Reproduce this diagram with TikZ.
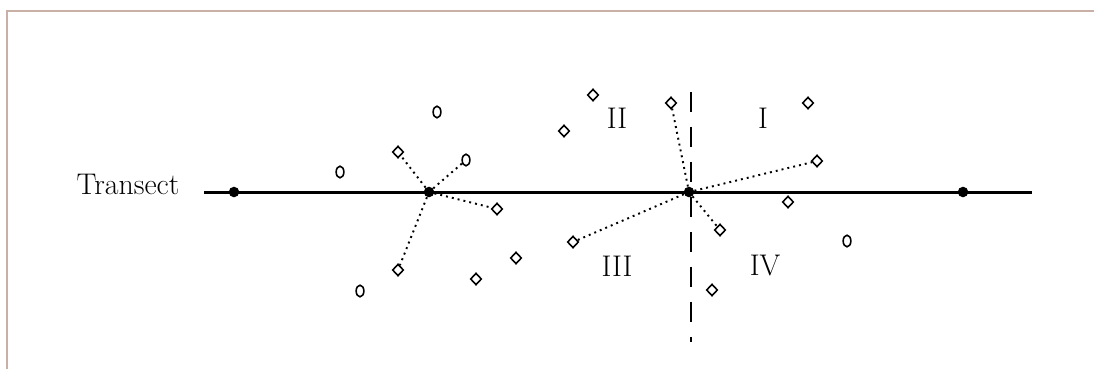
\documentclass[tikz,border=0pt]{standalone}
\usepackage{tikz}
\usetikzlibrary{shapes.geometric}

\definecolor{frame}{RGB}{200,176,166}

\begin{document}
\begin{tikzpicture}[
  x=0.02cm, y=-0.02cm,
  pt/.style={diamond, draw, line width=0.9pt, inner sep=0pt, minimum width=6.4pt, minimum height=6.8pt},
  opt/.style={ellipse, draw, line width=0.9pt, inner sep=0pt, minimum width=4.4pt, minimum height=6.6pt},
  stn/.style={circle, fill, inner sep=0pt, minimum size=6pt},
  lab/.style={font=\fontsize{17}{19}\selectfont},
  nn/.style={line width=1.1pt, dash pattern=on 1.1pt off 2.3pt}
]
  \useasboundingbox (0,0) rectangle (1094,369);
  \draw[frame, line width=1.2pt] (7,369) -- (7,11) -- (1094,11);

  % transect and dividing line
  \coordinate (tw) at (204,192);
  \coordinate (te) at (1032,192);
  \coordinate (dt) at (691,92);
  \coordinate (db) at (691,342);
  \draw[line width=1.7pt] (tw) -- (te);
  \draw[line width=1.3pt, dash pattern=on 0.4cm off 0.3cm] (dt) -- (db);
  \node[lab] (tr) at (128,184) {Transect};

  \node[stn] (s0) at (234,192) {};
  \node[stn] (s1) at (429,192) {};
  \node[stn] (s2) at (689,192) {};
  \node[stn] (s3) at (963,192) {};

  % quadrant labels
  \node[lab] (q1) at (763,118) {I};
  \node[lab] (q2) at (617,118) {II};
  \node[lab] (q3) at (617,266) {III};
  \node[lab] (q4) at (765,266) {IV};

  % points near first station
  \node[opt] (o1) at (437,112) {};
  \node[opt] (o2) at (340,172) {};
  \node[opt] (a2) at (466,160) {};
  \node[opt] (o3) at (360,291) {};
  \node[pt] (a1) at (398,152) {};
  \node[pt] (a3) at (497,209) {};
  \node[pt] (a4) at (398,270) {};
  \node[pt] (p1) at (516,258) {};
  \node[pt] (p2) at (476,279) {};

  % points near second station
  \node[pt] (p3) at (593,95) {};
  \node[pt] (p4) at (564,131) {};
  \node[pt] (b1) at (671,103) {};
  \node[pt] (p5) at (808,103) {};
  \node[pt] (b2) at (817,161) {};
  \node[pt] (p6) at (788,202) {};
  \node[pt] (b3) at (720,230) {};
  \node[pt] (b4) at (573,242) {};
  \node[pt] (p7) at (712,290) {};
  \node[opt] (o4) at (847,241) {};

  % nearest neighbours
  \foreach \t in {a1,a2,a3,a4}
    \draw[nn] (s1) -- (\t);
  \foreach \t in {b1,b2,b3,b4}
    \draw[nn] (s2) -- (\t);
\end{tikzpicture}
\end{document}
